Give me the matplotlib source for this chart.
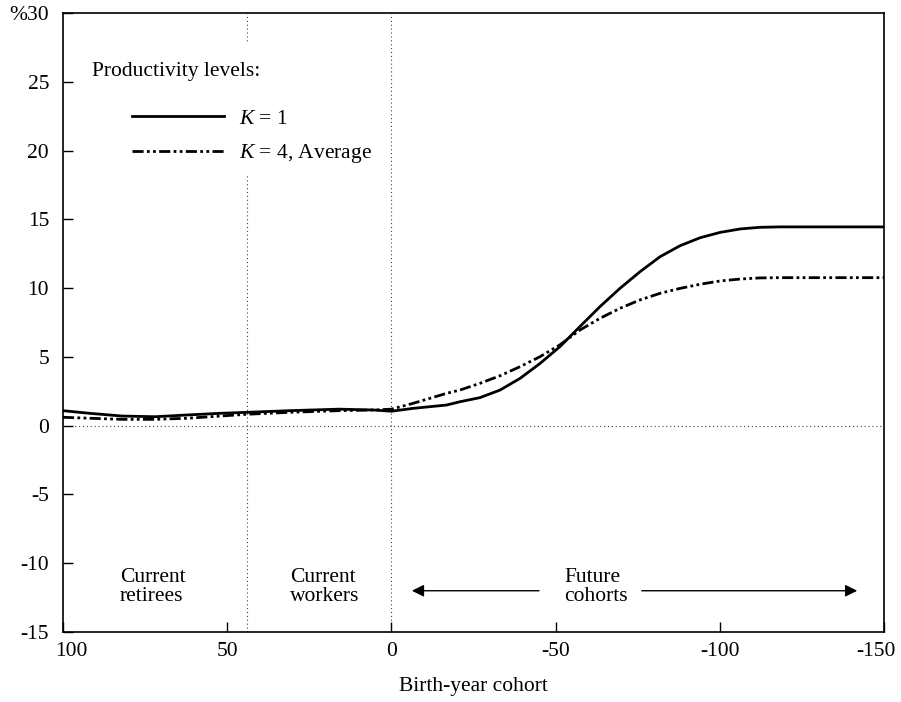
import numpy as np
import matplotlib
matplotlib.use('Agg')
import matplotlib.pyplot as plt
from matplotlib.transforms import ScaledTranslation

plt.rcParams['font.family'] = ['Liberation Serif', 'DejaVu Serif']
plt.rcParams['mathtext.fontset'] = 'custom'
plt.rcParams['mathtext.rm'] = 'Liberation Serif'
plt.rcParams['mathtext.it'] = 'Liberation Serif:italic'
plt.rcParams['axes.unicode_minus'] = False

# birth-year cohort
cohort_k1 = [100, 92, 82, 72, 62, 52, 44, 31, 16, 5.5, 0, -6.7, -16.8, -20.9, -27, -33.1,
             -39.2, -45.3, -51.3, -57.4, -63.5, -69.6, -75.7, -81.8, -87.9, -94, -100.1,
             -106.2, -112.2, -118.3, -150]
k1 = [1.09, 0.9, 0.7, 0.65, 0.78, 0.9, 0.97, 1.09, 1.2, 1.14, 1.05, 1.26, 1.5, 1.74, 2.04,
      2.59, 3.44, 4.53, 5.74, 7.2, 8.65, 9.98, 11.19, 12.28, 13.08, 13.66, 14.05, 14.3,
      14.42, 14.45, 14.45]

cohort_k4 = [100, 92, 82, 72, 62, 52, 44, 31, 16, 5.5, 0, -6.7, -16.8, -20.9, -27, -33.1,
             -39.2, -45.3, -51.3, -57.4, -63.5, -69.6, -75.7, -81.8, -87.9, -94, -100.1,
             -106.2, -112.2, -118.3, -150]
k4 = [0.61, 0.54, 0.46, 0.46, 0.54, 0.7, 0.83, 0.97, 1.09, 1.14, 1.2, 1.63, 2.35, 2.59, 3.08,
      3.63, 4.29, 5.02, 5.87, 6.95, 7.8, 8.53, 9.14, 9.62, 9.98, 10.28, 10.52, 10.66,
      10.74, 10.76, 10.76]

xticks = [100, 50, 0, -50, -100, -150]
yticks = [-15, -10, -5, 0, 5, 10, 15, 20, 25, 30]
ytick_labels = ['-15', '-10', '-5', '0', '5', '10', '15', '20', '25', '%30']

retire_split = 44   # boundary retirees / workers
fs = 15.5

fig = plt.figure(figsize=(9.01, 7.02), dpi=100)
ax = fig.add_axes([0.0699, 0.0997, 0.9112, 0.8818])

dot = (0, (1, 2.5))
ax.axhline(0, color='0.25', lw=0.8, ls=dot, zorder=1)
ax.axvline(0, color='0.25', lw=0.8, ls=dot, zorder=1)
ax.axvline(retire_split, color='0.25', lw=0.8, ls=dot, zorder=1)

l1, = ax.plot(cohort_k1, k1, color='black', lw=2, zorder=3, solid_joinstyle='round')
l4, = ax.plot(cohort_k4, k4, color='black', lw=2,
              ls=(0, (4, 1.2, 1, 1.2, 1, 1.2)), zorder=3)

ax.set_xlim(100, -150)
ax.set_ylim(-15, 30)
ax.set_xticks(xticks)
ax.set_xticklabels([str(v) for v in xticks])
ax.set_yticks(yticks)
ax.set_yticklabels(ytick_labels)
ax.tick_params(direction='in', length=7, width=1, labelsize=fs, top=False, right=False)
ax.tick_params(axis='y', pad=10)
ax.tick_params(axis='x', pad=7)
for s in ax.spines.values():
    s.set_linewidth(1.2)

# end labels sit a little inside the frame, as in the original
xlabs = ax.get_xticklabels()
xlabs[0].set_transform(xlabs[0].get_transform() + ScaledTranslation(0.08, 0, fig.dpi_scale_trans))
xlabs[-1].set_transform(xlabs[-1].get_transform() + ScaledTranslation(-0.08, 0, fig.dpi_scale_trans))

ax.set_xlabel('Birth-year cohort', fontsize=fs, labelpad=12)

# legend
ax.text(0.0353, 0.905, 'Productivity levels:', transform=ax.transAxes, fontsize=fs,
        ha='left', va='center', zorder=5,
        bbox=dict(boxstyle='square,pad=0.85', fc='white', ec='none'))
leg = ax.legend([l1, l4], ['$K$ = 1', '$K$ = 4, Average'], loc='upper left',
                bbox_to_anchor=(0.0579, 0.8801), fontsize=fs, handlelength=4.28,
                handletextpad=0.7, labelspacing=0.63, borderpad=0.5,
                frameon=True, fancybox=False)
leg.get_frame().set_facecolor('white')
leg.get_frame().set_edgecolor('none')
leg.get_frame().set_alpha(1)
leg.set_zorder(6)

# region labels
ax.text(82.6, -11.7, 'Current\nretirees', fontsize=fs, ha='left', va='center', linespacing=1.0)
ax.text(30.9, -11.7, 'Current\nworkers', fontsize=fs, ha='left', va='center', linespacing=1.0)
ax.text(-52.6, -11.7, 'Future\ncohorts', fontsize=fs, ha='left', va='center', linespacing=1.0)
ax.annotate('', xy=(-5.4, -12.0), xytext=(-45.8, -12.0),
            arrowprops=dict(arrowstyle='-|>', color='black', lw=1, mutation_scale=18))
ax.annotate('', xy=(-142.7, -12.0), xytext=(-75.4, -12.0),
            arrowprops=dict(arrowstyle='-|>', color='black', lw=1, mutation_scale=18))

fig.savefig('out.png', dpi=100)
